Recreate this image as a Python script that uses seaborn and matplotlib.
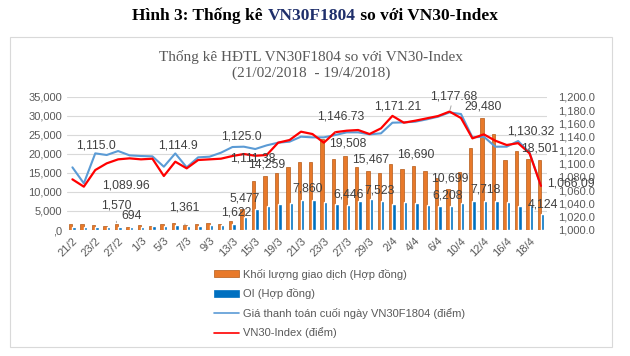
import numpy as np
import pandas as pd
import matplotlib
matplotlib.use("Agg")
import matplotlib.pyplot as plt
from matplotlib.patches import Rectangle
from matplotlib.ticker import FuncFormatter, MultipleLocator
import seaborn as sns

# Phiên giao dịch 21/02/2018 - 19/4/2018
dates = ["21/2", "22/2", "23/2", "26/2", "27/2", "28/2",
         "1/3", "2/3", "5/3", "6/3", "7/3", "8/3", "9/3", "12/3", "13/3", "14/3",
         "15/3", "16/3", "19/3", "20/3", "21/3", "22/3", "23/3", "26/3", "27/3",
         "28/3", "29/3", "30/3",
         "2/4", "3/4", "4/4", "5/4", "6/4", "9/4", "10/4", "11/4", "12/4", "13/4",
         "16/4", "17/4", "18/4", "19/4"]

# Khối lượng giao dịch (hợp đồng)
volume = [1490, 1490, 1400, 1140, 1570, 870, 1220, 1050, 1490, 1750, 1361, 1570,
          1900, 1490, 2450, 5477, 12860, 14259, 14900, 16450, 17760, 17940,
          24000, 18640, 19508, 16625, 15467, 15050, 17240, 16100, 16690, 15490,
          13560, 10699, 15140, 21650, 29480, 25110, 18450, 20650, 18640, 18501]

# OI (hợp đồng)
oi = [700, 790, 790, 790, 694, 700, 880, 960, 960, 1225, 1140, 1140,
      1225, 1400, 1622, 3500, 5425, 6300, 6740, 7175, 7860, 7875,
      7260, 6825, 6446, 7610, 8100, 7523, 6740, 7260, 7000, 6560,
      6390, 6208, 7175, 7700, 7718, 7525, 7350, 6390, 6560, 4124]

# Giá thanh toán cuối ngày VN30F1804 (điểm)
settle = [1094, 1070, 1115.0, 1112.5, 1118.5, 1112, 1111, 1110.5, 1095, 1114.9,
          1094, 1109, 1110, 1116, 1124.5, 1125.0, 1121.5, 1127, 1131, 1132.5,
          1140, 1139, 1139, 1142.5, 1146.5, 1146.5, 1143.5, 1145, 1161, 1161.5,
          1162.5, 1166, 1170, 1176.5, 1174, 1139, 1140, 1125, 1125, 1133.5,
          1116, 1066.09]

# VN30-Index (điểm)
vn30 = [1076, 1065, 1089.96, 1100, 1106, 1107.5, 1106, 1107, 1081, 1102.5,
        1092.5, 1105, 1106, 1107, 1111, 1114, 1111.38, 1112.5, 1131, 1135,
        1147.5, 1144, 1131, 1146.73, 1149, 1150, 1144, 1152.5, 1171.21, 1161,
        1164, 1167.5, 1171, 1177.68, 1168, 1137.5, 1143.5, 1134, 1127.5, 1130.32,
        1115, 1066.09]

series_names = ["Khối lượng giao dịch (Hợp đồng)", "OI (Hợp đồng)",
                "Giá thanh toán cuối ngày VN30F1804 (điểm)", "VN30-Index (điểm)"]

# nhãn số liệu: (chuỗi, vị trí, dx, dy, có đường dẫn)
label_spec = [
    ("vol", 4, 0, 19, True), ("oi", 4, 12, 11, False), ("vol", 10, -1, 17, True),
    ("oi", 14, 2, 11, False), ("vol", 15, 3, 11, False), ("vol", 17, 2, 11, False),
    ("oi", 20, 5, 12, False), ("vol", 24, 3, 12, False), ("oi", 24, 0, 11, False),
    ("vol", 26, 3, 12, False), ("oi", 27, -3, 11, False), ("vol", 30, 2, 12, False),
    ("vol", 33, 2, 11, False), ("oi", 33, -4, 11, False), ("vol", 36, 1, 11, False),
    ("oi", 36, 0, 11, False), ("vol", 41, 0, 11, False), ("oi", 41, 0, 10, False),
    ("settle", 2, 1, 8, False), ("settle", 9, 3, 8, False), ("settle", 15, -2, 10, False),
    ("vn30", 2, 31, -15, False), ("vn30", 16, -2, -3, False), ("vn30", 23, 5, 16, True),
    ("vn30", 28, 5, 9, False), ("vn30", 33, 4, 15, True), ("vn30", 39, 13, 12, False),
    ("vn30", 41, 30, 2, False),
]

orange = "#E8792A"
blue_bar = "#0070C0"
blue_line = "#5B9BD5"
red = "#FF0000"
gray_txt = "#595959"

sns.set_theme(style="white")
plt.rcParams["font.family"] = ["Liberation Sans", "DejaVu Sans"]

pos = np.arange(len(dates))
bars = pd.DataFrame({"Ngày": dates * 2,
                     "Giá trị": volume + oi,
                     "Chuỗi": [series_names[0]] * len(dates) + [series_names[1]] * len(dates)})

fig = plt.figure(figsize=(6.3, 3.56), dpi=100)
fig.patch.set_facecolor("white")
W, H = 630, 356
ax = fig.add_axes([66.7 / W, (H - 230) / H, 480 / W, 133.3 / H])

# 🔹 Cột: khối lượng và OI
sns.barplot(data=bars, x="Ngày", y="Giá trị", hue="Chuỗi", order=dates,
            hue_order=series_names[:2], palette=[orange, blue_bar],
            width=0.6, saturation=1, ax=ax, legend=False)
for p in ax.containers[0]:
    p.set_edgecolor("#B55A17")
    p.set_linewidth(0.5)

ax.set_ylim(0, 35000)
ax.yaxis.set_major_locator(MultipleLocator(5000))
ax.yaxis.set_major_formatter(FuncFormatter(lambda v, _: f"{v:,.0f}" if v else ",0"))
ax.grid(axis="y", color="#D9D9D9", lw=0.8)
ax.set_axisbelow(True)
ax.set_xlabel("")
ax.set_ylabel("")
ax.set_xticks(pos[::2])
ax.set_xticklabels(dates[::2], rotation=45, ha="right", rotation_mode="anchor")
ax.tick_params(axis="both", length=0, labelsize=8, labelcolor=gray_txt)
ax.tick_params(axis="x", pad=4)
for s in ax.spines.values():
    s.set_visible(False)

# 🔹 Đường: giá thanh toán và VN30-Index (trục phải)
ax2 = ax.twinx()
sns.lineplot(x=pos, y=settle, ax=ax2, color=blue_line, lw=1.5)
sns.lineplot(x=pos, y=vn30, ax=ax2, color=red, lw=1.6)
ax2.set_ylim(1000, 1200)
ax2.set_xlim(-0.5, len(dates) - 0.5)
ax2.yaxis.set_major_locator(MultipleLocator(20))
ax2.yaxis.set_major_formatter(FuncFormatter(lambda v, _: f"{v:,.1f}"))
ax2.tick_params(axis="y", length=0, labelsize=8, labelcolor=gray_txt, pad=8)
ax2.tick_params(axis="x", bottom=False, labelbottom=False)
for s in ax2.spines.values():
    s.set_visible(False)

# 🔹 Nhãn số liệu
values = {"vol": volume, "oi": oi, "settle": settle, "vn30": vn30}
for key, i, dx, dy, leader in label_spec:
    v = values[key][i]
    if key == "vol":
        xy, trans, txt = (i - 0.15, v), ax.transData, f"{v:,.0f}"
    elif key == "oi":
        xy, trans, txt = (i + 0.15, v), ax.transData, f"{v:,.0f}"
    else:
        xy, trans = (i, v), ax2.transData
        txt = f"{v:,.1f}" if key == "settle" else f"{v:,.2f}"
    ax2.annotate(txt, xy=xy, xycoords=trans, xytext=(dx, dy), textcoords="offset pixels",
                 ha="center", va="center", fontsize=8.8, color="#404040",
                 arrowprops=dict(arrowstyle="-", color="#A6A6A6", lw=0.7,
                                 shrinkA=5, shrinkB=1) if leader else None)

# 🔹 Chú giải
handles = [Rectangle((0, 0), 1, 1, fc=orange, ec="#B55A17", lw=0.5),
           Rectangle((0, 0), 1, 1, fc=blue_bar, ec=blue_bar, lw=0.5),
           plt.Line2D([], [], color=blue_line, lw=1.2),
           plt.Line2D([], [], color=red, lw=1.2)]
fig.legend(handles, series_names, loc="upper left", bbox_to_anchor=(208 / W, 1 - 263 / H),
           frameon=False, fontsize=8, labelcolor=gray_txt, handlelength=2.3,
           handleheight=0.55, labelspacing=0.78, handletextpad=0.35, borderpad=0)

# 🔹 Khung và tiêu đề
fig.patches.append(Rectangle((10 / W, (H - 347) / H), 602 / W, 310 / H,
                             transform=fig.transFigure, fill=False, ec="#D9D9D9", lw=0.8))
fig.text(311 / W, 1 - 57 / H, "Thống kê HĐTL VN30F1804 so với VN30-Index",
         ha="center", va="center", family="Liberation Serif", fontsize=11, color=gray_txt)
fig.text(311 / W, 1 - 73 / H, "(21/02/2018  - 19/4/2018)",
         ha="center", va="center", family="Liberation Serif", fontsize=11, color=gray_txt)

# tiêu đề hình, phần "VN30F1804" màu xanh đậm
parts = [("Hình 3: Thống kê ", "black"), ("VN30F1804", "#1F2F6B"), (" so với VN30-Index", "black")]
renderer = fig.canvas.get_renderer()
widths = []
for s, c in parts:
    t = fig.text(0, 0, s, family="Liberation Serif", weight="bold", fontsize=12.5)
    widths.append(t.get_window_extent(renderer).width)
    t.remove()
x = (W - sum(widths)) / 2
for (s, c), w in zip(parts, widths):
    fig.text(x / W, 1 - 16 / H, s, family="Liberation Serif", weight="bold",
             fontsize=12.5, color=c, va="center")
    x += w

fig.savefig("out.png", dpi=100)
